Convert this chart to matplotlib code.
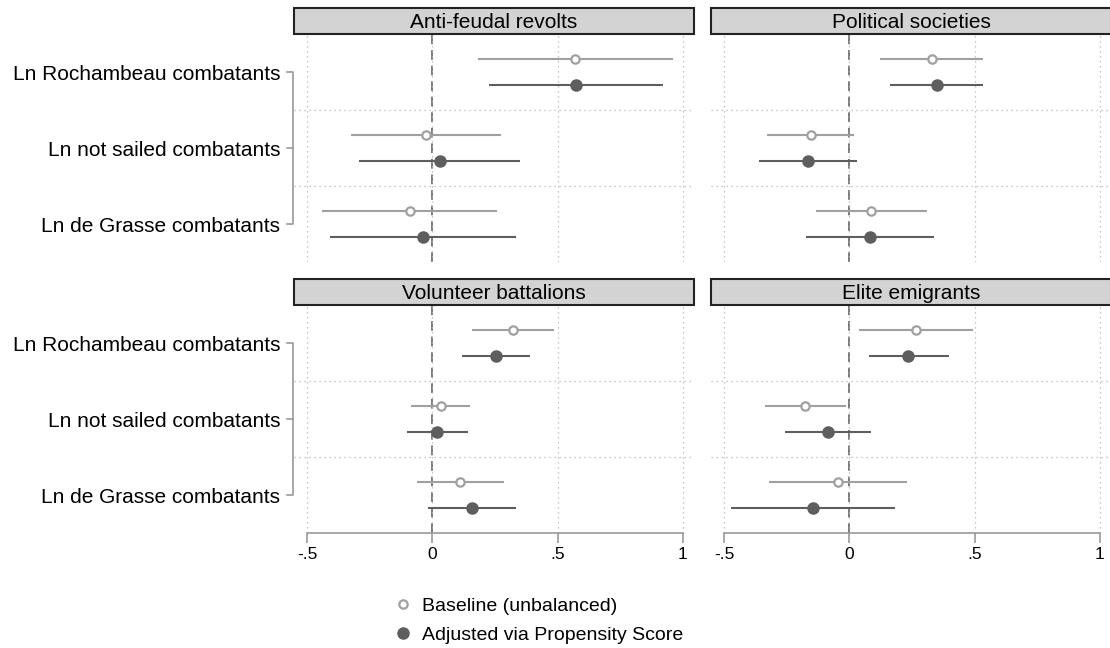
import numpy as np
import matplotlib.pyplot as plt
from matplotlib.lines import Line2D
from matplotlib.patches import Rectangle

plt.rcParams['font.family'] = ['Liberation Sans', 'DejaVu Sans']

# data (coefficient, lower CI, upper CI)
variables = ['Ln Rochambeau combatants', 'Ln not sailed combatants', 'Ln de Grasse combatants']
panels = ['Anti-feudal revolts', 'Political societies', 'Volunteer battalions', 'Elite emigrants']

base_coef = [[0.568, -0.025, -0.091],
             [0.329, -0.153, 0.088],
             [0.321, 0.033, 0.111],
             [0.267, -0.175, -0.044]]
base_lo = [[0.181, -0.323, -0.439],
           [0.124, -0.327, -0.132],
           [0.159, -0.085, -0.063],
           [0.039, -0.336, -0.320]]
base_hi = [[0.960, 0.275, 0.259],
           [0.535, 0.017, 0.311],
           [0.485, 0.151, 0.284],
           [0.495, -0.015, 0.232]]

adj_coef = [[0.572, 0.029, -0.037],
            [0.348, -0.165, 0.083],
            [0.253, 0.020, 0.159],
            [0.236, -0.087, -0.145]]
adj_lo = [[0.225, -0.292, -0.408],
          [0.161, -0.359, -0.172],
          [0.117, -0.103, -0.017],
          [0.077, -0.256, -0.473]]
adj_hi = [[0.919, 0.349, 0.333],
          [0.535, 0.031, 0.339],
          [0.388, 0.143, 0.335],
          [0.396, 0.085, 0.184]]

xticks = [-0.5, 0, 0.5, 1]
xticklabels = ['-.5', '0', '.5', '1']

base_color = '#a0a0a0'
adj_color = '#5e5e5e'
W, H = 1110, 648

fig = plt.figure(figsize=(W / 100, H / 100), dpi=100)

# axes boxes in pixels: left, top, width, height
boxes = [(294, 34, 400, 228), (711, 34, 400, 228),
         (294, 305, 400, 228), (711, 305, 400, 228)]

ypos = np.arange(1, len(variables) + 1)
off = 0.167

for k, (px, py, pw, ph) in enumerate(boxes):
    ax = fig.add_axes([px / W, 1 - (py + ph) / H, pw / W, ph / H])
    ax.set_xlim(-0.552, 1.044)
    ax.set_ylim(3.5, 0.5)

    # grid
    ax.set_xticks(xticks)
    ax.set_yticks([1.5, 2.5], minor=True)
    ax.grid(which='major', axis='x', linestyle=(0, (1, 3)), color='#b4b4b4', linewidth=0.9)
    ax.grid(which='minor', axis='y', linestyle=(0, (1, 3)), color='#b4b4b4', linewidth=0.9)
    ax.axvline(0, color='#7a7a7a', linestyle=(0, (5, 3)), linewidth=1.4, zorder=1)

    # estimates
    y_b = ypos - off
    y_a = ypos + off
    ax.hlines(y_b, base_lo[k], base_hi[k], color=base_color, linewidth=1.5, zorder=2)
    ax.plot(base_coef[k], y_b, 'o', markersize=6, markerfacecolor='white',
            markeredgecolor=base_color, markeredgewidth=1.6, linestyle='none', zorder=3)
    ax.hlines(y_a, adj_lo[k], adj_hi[k], color=adj_color, linewidth=1.5, zorder=2)
    ax.plot(adj_coef[k], y_a, 'o', markersize=8, color=adj_color, linestyle='none', zorder=3)

    for s in ['top', 'right', 'left']:
        ax.spines[s].set_visible(False)

    ax.set_yticks(ypos)
    ax.tick_params(axis='y', which='both', length=0)
    if k % 2 == 0:
        ax.set_yticklabels(variables, fontsize=15)
        ax.tick_params(axis='y', pad=10)
        # group bracket
        ax.plot([-0.018, -0.0025, -0.0025, -0.018], [1, 1, 3, 3], color='#9a9a9a',
                linewidth=1.2, transform=ax.get_yaxis_transform(), clip_on=False)
        ax.plot([-0.018, -0.0025], [2, 2], color='#9a9a9a', linewidth=1.2,
                transform=ax.get_yaxis_transform(), clip_on=False)
    else:
        ax.set_yticklabels([])

    if k >= 2:
        ax.spines['bottom'].set_bounds(-0.5, 1)
        ax.spines['bottom'].set_color('#9a9a9a')
        ax.spines['bottom'].set_linewidth(1.2)
        ax.set_xticklabels(xticklabels, fontsize=12.5)
        ax.tick_params(axis='x', length=7, color='#9a9a9a', width=1.2, pad=3)
    else:
        ax.spines['bottom'].set_visible(False)
        ax.tick_params(axis='x', length=0, labelbottom=False)

    # panel header
    hh = 26 / ph
    ax.add_patch(Rectangle((0, 1), 1, hh, transform=ax.transAxes, facecolor='#d3d3d3',
                           edgecolor='#222222', linewidth=1.5, clip_on=False))
    ax.text(0.5, 1 + hh / 2 - 1.5 / ph, panels[k], transform=ax.transAxes, ha='center',
            va='center', fontsize=15)

handles = [Line2D([], [], marker='o', linestyle='none', markersize=6, markerfacecolor='white',
                  markeredgecolor=base_color, markeredgewidth=1.6),
           Line2D([], [], marker='o', linestyle='none', markersize=8, color=adj_color)]
fig.legend(handles, ['Baseline (unbalanced)', 'Adjusted via Propensity Score'],
           loc='upper left', bbox_to_anchor=(393 / W, 1 - 597 / H), frameon=False,
           fontsize=14, handlelength=1.0, handletextpad=0.5, labelspacing=0.6,
           borderpad=0, borderaxespad=0)

fig.savefig('out.png', dpi=100)
